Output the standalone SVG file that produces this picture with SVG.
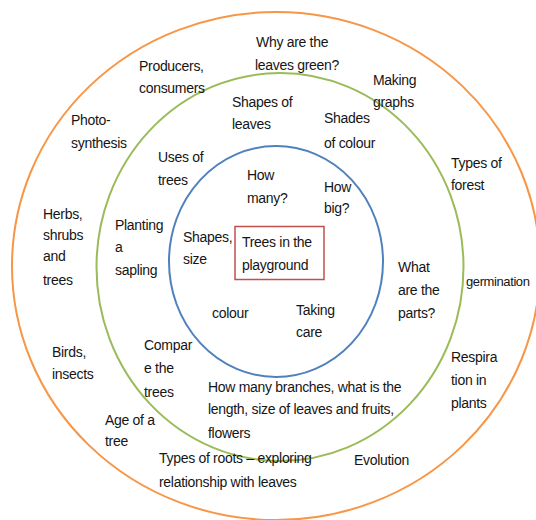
<svg xmlns="http://www.w3.org/2000/svg" width="536" height="520" viewBox="0 0 536 520">
<style>
text{font-family:"Liberation Sans",Arial,sans-serif;font-size:14px;fill:#151515;letter-spacing:-0.3px}
.ring{fill:none;stroke-width:2}
</style>
<rect width="536" height="520" fill="#fff"/>
<g id="rings">
<ellipse class="ring" cx="276" cy="266" rx="264" ry="254" stroke="#f79646"/>
<ellipse class="ring" cx="280" cy="267" rx="183.5" ry="194" stroke="#9bbb59"/>
<ellipse class="ring" cx="276" cy="261.5" rx="107" ry="115.5" stroke="#4f81bd"/>
</g>
<g id="center">
<rect x="235" y="226.5" width="89" height="53" fill="none" stroke="#c0504d" stroke-width="1.5"/>
<text x="242" y="247">Trees in the</text>
<text x="242" y="270">playground</text>
</g>
<g id="how-many"><text x="247" y="180">How</text><text x="247" y="203">many?</text></g>
<g id="how-big"><text x="324" y="192">How</text><text x="324" y="213">big?</text></g>
<g id="shapes-size"><text x="183" y="242">Shapes,</text><text x="183" y="264">size</text></g>
<g id="colour"><text x="212" y="318">colour</text></g>
<g id="taking-care"><text x="296" y="315">Taking</text><text x="296" y="337">care</text></g>
<g id="shapes-leaves"><text x="232" y="107">Shapes of</text><text x="232" y="129">leaves</text></g>
<g id="shades"><text x="324" y="123">Shades</text><text x="324" y="148">of colour</text></g>
<g id="uses"><text x="158" y="162">Uses of</text><text x="158" y="185">trees</text></g>
<g id="planting"><text x="115" y="230">Planting</text><text x="115" y="252">a</text><text x="115" y="275">sapling</text></g>
<g id="parts"><text x="398" y="272">What</text><text x="398" y="295">are the</text><text x="398" y="318">parts?</text></g>
<g id="compare"><text x="144" y="350">Compar</text><text x="144" y="373">e the</text><text x="144" y="397">trees</text></g>
<g id="branches"><text x="208" y="392">How many branches, what is the</text><text x="208" y="414">length, size of leaves and fruits,</text><text x="208" y="438">flowers</text></g>
<g id="why-green"><text x="256" y="47">Why are the</text><text x="255" y="70">leaves green?</text></g>
<g id="producers"><text x="139" y="71">Producers,</text><text x="139" y="93">consumers</text></g>
<g id="making-graphs"><text x="373" y="85">Making</text><text x="373" y="107">graphs</text></g>
<g id="photo"><text x="71" y="125">Photo-</text><text x="71" y="148">synthesis</text></g>
<g id="forest"><text x="451" y="168">Types of</text><text x="451" y="190">forest</text></g>
<g id="herbs"><text x="43" y="219">Herbs,</text><text x="43" y="240">shrubs</text><text x="43" y="261">and</text><text x="43" y="285">trees</text></g>
<g id="germination"><text x="466" y="286" style="font-size:13px;letter-spacing:-0.4px">germination</text></g>
<g id="birds"><text x="52" y="357">Birds,</text><text x="52" y="379">insects</text></g>
<g id="respiration"><text x="451" y="362">Respira</text><text x="451" y="385">tion in</text><text x="451" y="408">plants</text></g>
<g id="age"><text x="105" y="425">Age of a</text><text x="105" y="446">tree</text></g>
<g id="roots"><text x="159" y="463">Types of roots – exploring</text><text x="159" y="487">relationship with leaves</text></g>
<g id="evolution"><text x="354" y="465">Evolution</text></g>
</svg>
